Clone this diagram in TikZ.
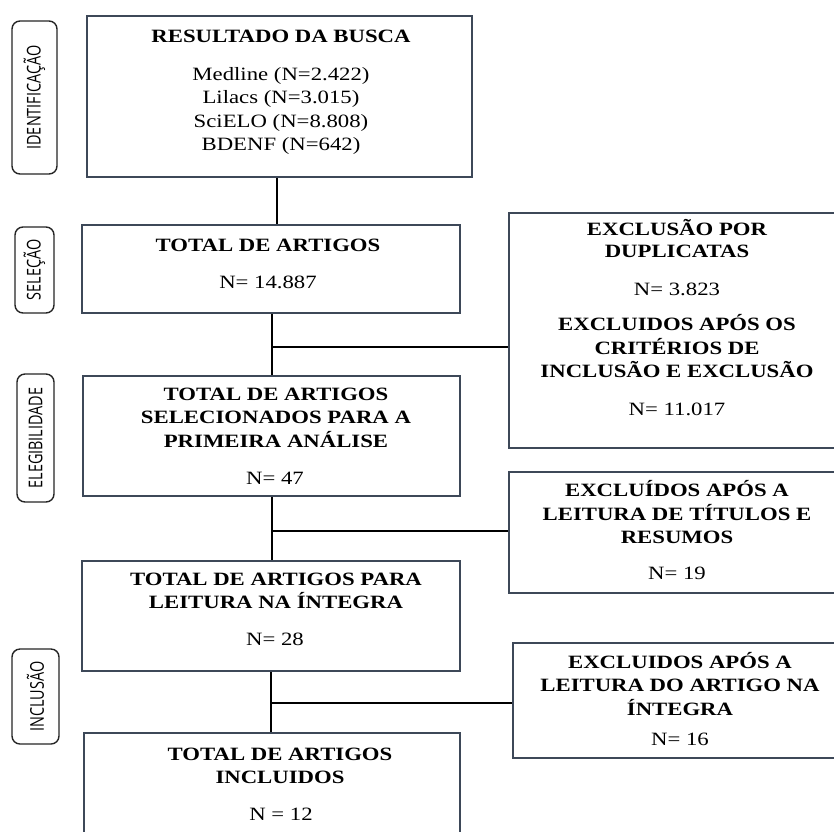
\documentclass[tikz,border=0pt]{standalone}
\usepackage{fontspec}
\setmainfont{Liberation Serif}[FakeStretch=1.21]
\newfontfamily\labfont{Open Sans}[FakeStretch=0.76]
\definecolor{boxc}{HTML}{3D4858}
\begin{document}
\begin{tikzpicture}[x=1pt,y=-1pt,
  boxn/.style={draw=boxc,line width=2pt,inner sep=0pt,rectangle},
  labn/.style={draw=black!85,line width=1.4pt,rounded corners=8pt,inner sep=0pt,rotate=90,
    font=\labfont\fontsize{19}{22}\selectfont},
  ttl/.style={inner sep=0pt,text height=0.662em,text depth=0pt,
    font=\fontsize{18.8}{22}\selectfont\bfseries},
  num/.style={inner sep=0pt,text height=0.662em,text depth=0pt,
    font=\fontsize{18.8}{22}\selectfont},
  conn/.style={draw=black,line width=2.5pt}]
\useasboundingbox (0,0) rectangle (834,831);
\clip (0,0) rectangle (834,831);
\fill[white] (0,0) rectangle (834,831);

% side labels
\node[labn,minimum width=153pt,minimum height=45pt] (l1) at (34.5,97.5) {IDENTIFICAÇÃO};
\node[labn,minimum width=86pt,minimum height=39pt] (l2) at (34.5,270) {SELEÇÃO};
\node[labn,minimum width=128pt,minimum height=37pt] (l3) at (35.5,438) {ELEGIBILIDADE};
\node[labn,minimum width=95pt,minimum height=47pt] (l4) at (35.5,696.5) {INCLUSÃO};

% main boxes
\node[boxn,minimum width=385pt,minimum height=161pt] (b1) at (279.5,96.5) {};
\node[boxn,minimum width=378pt,minimum height=88pt] (b2) at (271,269) {};
\node[boxn,minimum width=377pt,minimum height=120pt] (b3) at (271.5,436) {};
\node[boxn,minimum width=378pt,minimum height=110pt] (b4) at (271,616) {};
\node[boxn,minimum width=376pt,minimum height=117pt] (b5) at (272,791.5) {};

% right boxes
\node[boxn,minimum width=341pt,minimum height=235pt] (r1) at (679.5,330.5) {};
\node[boxn,minimum width=341pt,minimum height=121pt] (r2) at (679.5,532.5) {};
\node[boxn,minimum width=337pt,minimum height=115pt] (r3) at (681.5,700.5) {};

% texts box 1
\node[ttl] (t1a) at (281,39) {RESULTADO DA BUSCA};
\node[num] (t1b) at (281,77) {Medline (N=2.422)};
\node[num] (t1c) at (281,100) {Lilacs (N=3.015)};
\node[num] (t1d) at (281,124) {SciELO (N=8.808)};
\node[num] (t1e) at (281,147) {BDENF (N=642)};
% box 2
\node[ttl] (t2a) at (268,248) {TOTAL DE ARTIGOS};
\node[num] (t2b) at (268,285) {N= 14.887};
% box 3
\node[ttl] (t3a) at (276,397) {TOTAL DE ARTIGOS};
\node[ttl] (t3b) at (276,420) {SELECIONADOS PARA A};
\node[ttl] (t3c) at (276,444) {PRIMEIRA ANÁLISE};
\node[num] (t3d) at (275,481) {N= 47};
% box 4
\node[ttl] (t4a) at (276,582) {TOTAL DE ARTIGOS PARA};
\node[ttl] (t4b) at (276,605) {LEITURA NA ÍNTEGRA};
\node[num] (t4c) at (275,642) {N= 28};
% box 5
\node[ttl] (t5a) at (280,757) {TOTAL DE ARTIGOS};
\node[ttl] (t5b) at (280,780) {INCLUIDOS};
\node[num] (t5c) at (281,817) {N = 12};
% right box 1
\node[ttl] (u1a) at (677,232) {EXCLUSÃO POR};
\node[ttl] (u1b) at (677,254) {DUPLICATAS};
\node[num] (u1c) at (677,292) {N= 3.823};
\node[ttl] (u1d) at (677,327) {EXCLUIDOS APÓS OS};
\node[ttl] (u1e) at (677,351) {CRITÉRIOS DE};
\node[ttl] (u1f) at (677,374) {INCLUSÃO E EXCLUSÃO};
\node[num] (u1g) at (677,412) {N= 11.017};
% right box 2
\node[ttl] (u2a) at (677,493) {EXCLUÍDOS APÓS A};
\node[ttl] (u2b) at (677,517) {LEITURA DE TÍTULOS E};
\node[ttl] (u2c) at (677,540) {RESUMOS};
\node[num] (u2d) at (677,576) {N= 19};
% right box 3
\node[ttl] (u3a) at (680,665) {EXCLUIDOS APÓS A};
\node[ttl] (u3b) at (680,688) {LEITURA DO ARTIGO NA};
\node[ttl] (u3c) at (680,712) {ÍNTEGRA};
\node[num] (u3d) at (680,742) {N= 16};

% connectors
\coordinate (c0) at (277,200);
\coordinate (j1) at (272,347);
\coordinate (j2) at (272,531);
\coordinate (j3) at (271,703);
\draw[conn] (b1.south -| c0) -- (b2.north -| c0);
\draw[conn] (b2.south -| j1) -- (b3.north -| j1);
\draw[conn] (j1) -- (j1 -| r1.west);
\draw[conn] (b3.south -| j2) -- (b4.north -| j2);
\draw[conn] (j2) -- (j2 -| r2.west);
\draw[conn] (b4.south -| j3) -- (b5.north -| j3);
\draw[conn] (j3) -- (j3 -| r3.west);
\end{tikzpicture}
\end{document}
